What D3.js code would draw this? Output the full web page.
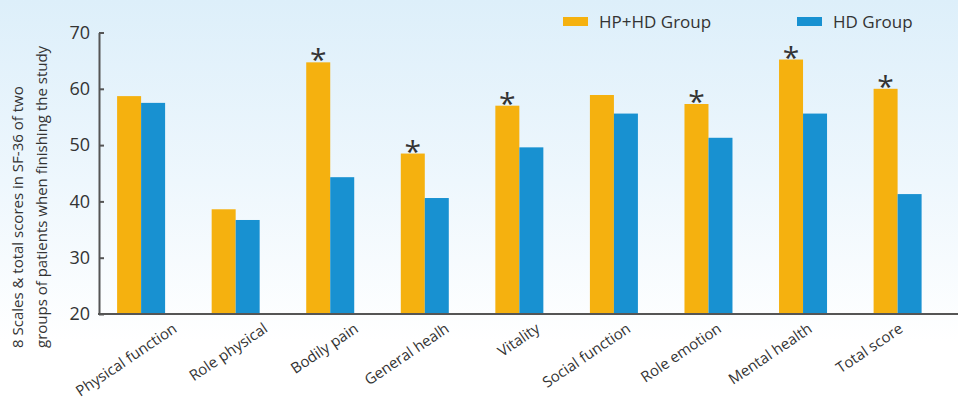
<!DOCTYPE html>
<html>
<head>
<meta charset="utf-8">
<script src="https://cdn.jsdelivr.net/npm/d3@7"></script>
<style>
  html, body { margin: 0; padding: 0; background: #fff; }
  svg { display: block; }
  text { font-family: "Open Sans", "Noto Sans", sans-serif; fill: #333; }
</style>
</head>
<body>
<svg id="chart" width="958" height="402"></svg>
<script>
// SF-36 scale scores at study end, two groups
const categories = ["Physical function", "Role physical", "Bodily pain", "General healh",
  "Vitality", "Social function", "Role emotion", "Mental health", "Total score"];
const seriesNames = ["HP+HD Group", "HD Group"];
const hphdValues = [58.7, 38.6, 64.7, 48.5, 57.0, 58.9, 57.3, 65.2, 60.0];
const hdValues   = [57.5, 36.7, 44.3, 40.6, 49.6, 55.6, 51.3, 55.6, 41.3];
const significant = [false, false, true, true, true, false, true, true, true];
const yTicks = [20, 30, 40, 50, 60, 70];
const yTitleLines = ["8 Scales & total scores in SF-36 of two",
  "groups of patients when finishing the study"];

const colors = { "HP+HD Group": "#F5B10F", "HD Group": "#1891D1" };
const W = 958, H = 402;
const svg = d3.select("#chart");

// soft blue wash behind the plot
const defs = svg.append("defs");
const grad = defs.append("linearGradient").attr("id", "bg")
  .attr("x1", 0).attr("y1", 0).attr("x2", 0).attr("y2", 1);
grad.append("stop").attr("offset", "0%").attr("stop-color", "#DDEFFA");
grad.append("stop").attr("offset", "45%").attr("stop-color", "#EEF7FD");
grad.append("stop").attr("offset", "85%").attr("stop-color", "#FFFFFF");
svg.append("rect").attr("width", W).attr("height", H).attr("fill", "url(#bg)");

const axisX = 99, axisBottom = 314;

const y = d3.scaleLinear().domain([20, 70]).range([axisBottom, 32.5]);
const x = d3.scaleBand().domain(categories).range([117.1, 921.6])
  .paddingInner(0.4924).paddingOuter(0);
const xs = d3.scaleBand().domain(seriesNames).range([0, x.bandwidth()]);
const labelX = d3.scalePoint().domain(categories).range([178, 904]);

const rows = categories.map((c, i) => ({
  cat: c, sig: significant[i],
  vals: [{ key: seriesNames[0], v: hphdValues[i] }, { key: seriesNames[1], v: hdValues[i] }]
}));

// bars
const g = svg.append("g");
const groups = g.selectAll("g.grp").data(rows).join("g")
  .attr("class", "grp").attr("transform", d => `translate(${x(d.cat)},0)`);
groups.selectAll("rect").data(d => d.vals).join("rect")
  .attr("x", d => xs(d.key))
  .attr("y", d => y(d.v))
  .attr("width", xs.bandwidth())
  .attr("height", d => y(20) - y(d.v))
  .attr("fill", d => colors[d.key]);

// significance markers over the HP+HD bars
groups.filter(d => d.sig).append("text")
  .attr("x", xs(seriesNames[0]) + xs.bandwidth() / 2)
  .attr("y", d => y(d.vals[0].v) + 8)
  .attr("text-anchor", "middle")
  .style("font-size", "30px")
  .style("fill", "#333")
  .text("*");

// y axis
const yAxis = d3.axisLeft(y).tickValues(yTicks).tickSizeInner(-5).tickSizeOuter(0).tickPadding(9);
const ya = svg.append("g").attr("transform", `translate(${axisX},0)`).call(yAxis);
ya.select(".domain").attr("stroke", "#555").attr("stroke-width", 2);
ya.selectAll(".tick line").attr("stroke", "#555").attr("stroke-width", 2);
ya.selectAll(".tick text").style("font-size", "18px").style("fill", "#333")
  .style("font-family", "'Open Sans', sans-serif");

// x baseline
svg.append("line").attr("x1", axisX - 1).attr("x2", W)
  .attr("y1", axisBottom).attr("y2", axisBottom)
  .attr("stroke", "#555").attr("stroke-width", 2);

// category labels
svg.append("g").selectAll("text").data(categories).join("text")
  .attr("transform", d => `translate(${labelX(d)},331) rotate(-34)`)
  .attr("text-anchor", "end")
  .style("font-size", "15px")
  .text(d => d);

// y title
svg.append("text")
  .attr("transform", "translate(23,348) rotate(-90)")
  .style("font-size", "15px")
  .selectAll("tspan").data(yTitleLines).join("tspan")
  .attr("x", 0).attr("dy", (d, i) => i === 0 ? 0 : 24)
  .text(d => d);

// legend
const legend = svg.append("g");
const legendX = [563, 797];
seriesNames.forEach((s, i) => {
  legend.append("rect").attr("x", legendX[i]).attr("y", 17)
    .attr("width", 25).attr("height", 9).attr("fill", colors[s]);
  legend.append("text").attr("x", legendX[i] + 36).attr("y", 28)
    .style("font-size", "17px").text(s);
});
</script>
</body>
</html>
